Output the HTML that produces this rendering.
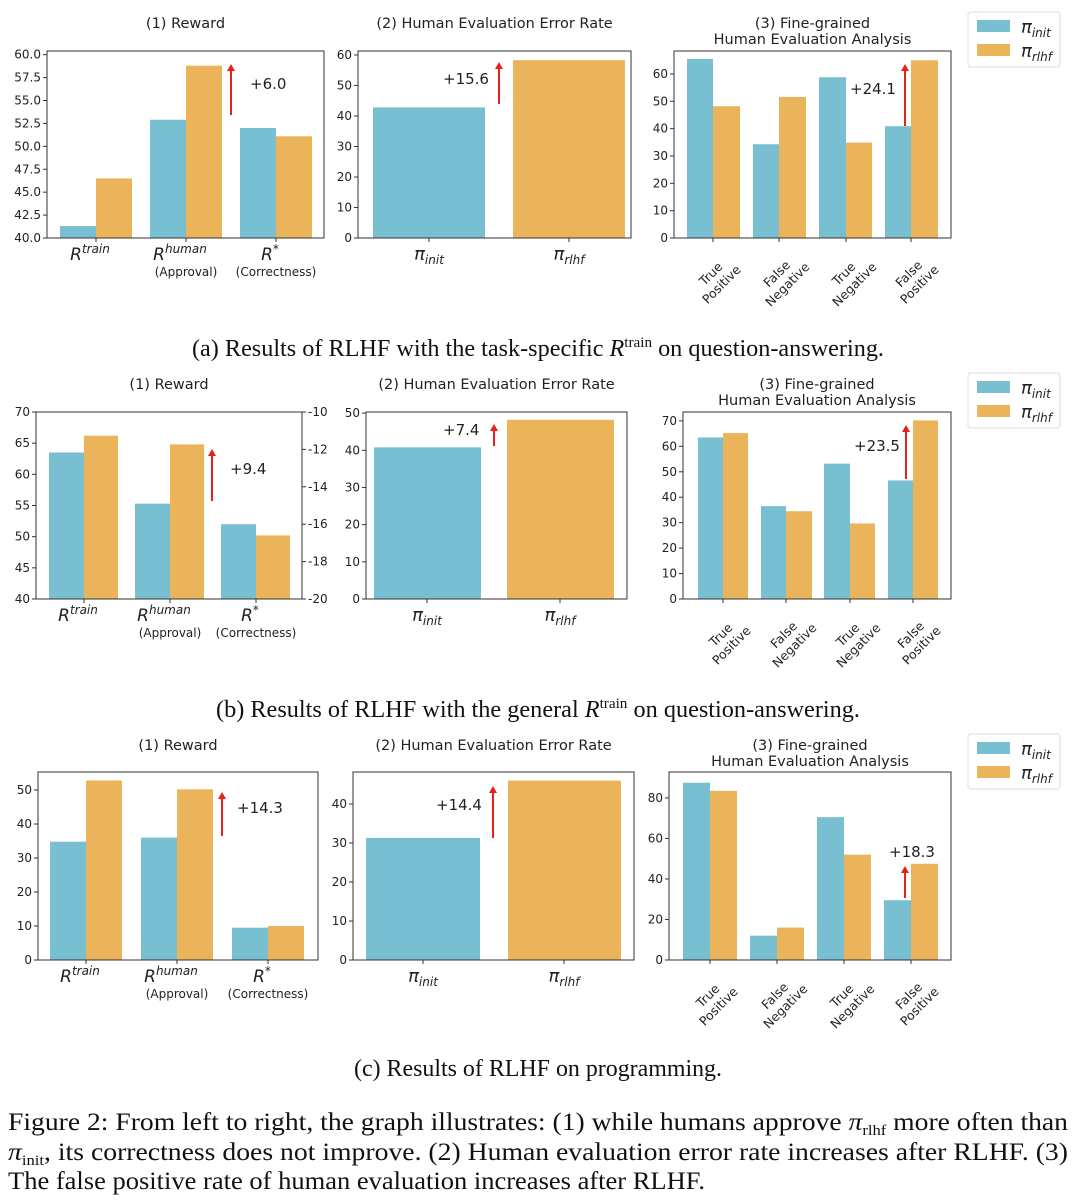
<!DOCTYPE html>
<html><head><meta charset="utf-8"><style>
body{margin:0;background:#fff;width:1080px;height:1200px;overflow:hidden}
svg{display:block}
.t{font-family:"DejaVu Sans",sans-serif;fill:#222}
.s{font-family:"Liberation Serif",serif;fill:#111}
</style></head><body>
<svg id="g" width="1080" height="1200" xmlns="http://www.w3.org/2000/svg"></svg>
<script>
const B='#78bfd2',O='#ebb35a';
const g=document.getElementById('g');let h='';
function txt(x,y,s,o={}){h+=`<text x="${x}" y="${y}" class="${o.c||'t'}" font-size="${o.fs||12}" text-anchor="${o.a||'middle'}" ${o.f?`fill="${o.f}"`:''} ${o.tr?`transform="${o.tr}"`:''} ${o.tl?`textLength="${o.tl}" lengthAdjust="spacingAndGlyphs"`:''}>${s}</text>`}
function panel(p){
 const {x0,x1,y0,y1,ymin,ymax}=p;const sy=v=>y1-(v-ymin)/(ymax-ymin)*(y1-y0);
 p.bars.forEach(b=>{h+=`<rect x="${b[0]}" y="${sy(b[2])}" width="${b[1]-b[0]}" height="${y1-sy(b[2])}" fill="${b[3]}"/>`});
 h+=`<rect x="${x0}" y="${y0}" width="${x1-x0}" height="${y1-y0}" fill="none" stroke="#333" stroke-width="1"/>`;
 p.ticks.forEach(t=>{const y=sy(t);h+=`<line x1="${x0-4}" x2="${x0}" y1="${y}" y2="${y}" stroke="#333"/>`;txt(x0-6,y+4,p.fmt?p.fmt(t):t,{a:'end'})});
 if(p.rt)p.rt.forEach((t,i)=>{const y=y1-i*(y1-y0)/(p.rt.length-1);h+=`<line x1="${x1}" x2="${x1+4}" y1="${y}" y2="${y}" stroke="#333"/>`;txt(x1+6,y+4,t,{a:'start'})});
 txt((x0+x1)/2,p.ty,p.title,{fs:14.5});
 if(p.ty2)txt((x0+x1)/2,p.ty2,p.title2,{fs:14.5});
 const a=p.arrow;h+=`<line x1="${a[0]}" x2="${a[0]}" y1="${a[1]}" y2="${a[2]+6}" stroke="#e8201a" stroke-width="2"/><polygon points="${a[0]-4},${a[2]+7} ${a[0]+4},${a[2]+7} ${a[0]},${a[2]}" fill="#e8201a"/>`;
 txt(a[3],a[4],a[5],{fs:15,f:'#e8201a',a:'start'});
 p.xl.forEach(l=>{h+=`<line x1="${l[0]}" x2="${l[0]}" y1="${y1}" y2="${y1+4}" stroke="#333"/>`;l[1](l[0],y1)});
}
const R=(sup,sub)=>(x,y)=>{txt(x-6,y+22,'<tspan font-style="italic" font-size="17">R</tspan><tspan font-style="italic" font-size="12" dy="-7">'+sup+'</tspan>',{});if(sub)txt(x,y+38,sub,{})};
const P=(s)=>(x,y)=>txt(x,y+22,'<tspan font-style="italic" font-size="18">π</tspan><tspan font-style="italic" font-size="12" dy="4">'+s+'</tspan>',{});
const Rot=(a,b)=>(x,y)=>{const cx=x+3,cy=y+41;h+=`<g transform="translate(${cx} ${cy}) rotate(-45)">`;txt(0,-3,a,{fs:12.5});txt(0,12,b,{fs:12.5});h+='</g>'};
function legend(y){h+=`<rect x="968" y="${y}" width="92" height="55" rx="3" fill="#fff" stroke="#ddd"/>
<rect x="977" y="${y+8}" width="33" height="12" fill="${B}"/><rect x="977" y="${y+32}" width="33" height="12" fill="${O}"/>`;
txt(1021,y+21,'<tspan font-style="italic" font-size="18">π</tspan><tspan font-style="italic" font-size="12" dy="4">init</tspan>',{a:'start'});
txt(1021,y+45,'<tspan font-style="italic" font-size="18">π</tspan><tspan font-style="italic" font-size="12" dy="4">rlhf</tspan>',{a:'start'});}
const labs1=(c)=>[[c[0],R('train')],[c[1],R('human','(Approval)')],[c[2],R('*','(Correctness)')]];
const labs3=(c)=>[[c[0],Rot('True','Positive')],[c[1],Rot('False','Negative')],[c[2],Rot('True','Negative')],[c[3],Rot('False','Positive')]];
function bars2(xs,vals){const r=[];xs.forEach((x,i)=>{r.push([x[0],x[1],vals[i][0],B]);r.push([x[1],x[2],vals[i][1],O])});return r}
// Row a
panel({x0:47,x1:324,y0:51,y1:238,ymin:40,ymax:60.4,ticks:[40,42.5,45,47.5,50,52.5,55,57.5,60],fmt:t=>t.toFixed(1),title:'(1) Reward',ty:28,
 bars:bars2([[60,96,132],[150,186,222],[240,276,312]],[[41.3,46.5],[52.9,58.8],[52.0,51.1]]),arrow:[231,115,64,250,89,'+6.0'],xl:labs1([96,186,276])});
panel({x0:358,x1:631,y0:51,y1:238,ymin:0,ymax:61.3,ticks:[0,10,20,30,40,50,60],title:'(2) Human Evaluation Error Rate',ty:28,
 bars:[[373,485,42.8,B],[513,625,58.3,O]],arrow:[499,104,62,443,84,'+15.6'],xl:[[429,P('init')],[569,P('rlhf')]]});
panel({x0:674,x1:951,y0:51,y1:238,ymin:0,ymax:68.4,ticks:[0,10,20,30,40,50,60],title:'(3) Fine-grained',ty:28,title2:'Human Evaluation Analysis',ty2:44,
 bars:bars2([[687,713,740],[753,779,806],[819,846,872],[885,911,938]],[[65.5,48.2],[34.3,51.6],[58.8,34.9],[40.9,65]]),arrow:[905,126,64,850,94,'+24.1'],xl:labs3([713,779,846,911])});
legend(12);
txt(538,356,'(a) Results of RLHF with the task-specific <tspan font-style="italic">R</tspan><tspan font-size="15" dy="-9">train</tspan><tspan dy="9"> on question-answering.</tspan>',{c:'s',fs:24,tl:692});
// Row b
panel({x0:36,x1:302,y0:412,y1:599,ymin:40,ymax:70,ticks:[40,45,50,55,60,65,70],rt:['-20','-18','-16','-14','-12','-10'],title:'(1) Reward',ty:389,
 bars:bars2([[49,84,118],[135,170,204],[221,256,290]],[[63.5,66.2],[55.3,64.8],[52,50.2]]),arrow:[212,501,449,230,474,'+9.4'],xl:labs1([84,170,256])});
panel({x0:366,x1:627,y0:412,y1:599,ymin:0,ymax:50.3,ticks:[0,10,20,30,40,50],title:'(2) Human Evaluation Error Rate',ty:389,
 bars:[[374,481,40.8,B],[507,614,48.2,O]],arrow:[494,446,424,443,435,'+7.4'],xl:[[427,P('init')],[560,P('rlhf')]]});
panel({x0:683,x1:951,y0:412,y1:599,ymin:0,ymax:73.5,ticks:[0,10,20,30,40,50,60,70],title:'(3) Fine-grained',ty:389,title2:'Human Evaluation Analysis',ty2:405,
 bars:bars2([[698,723,748],[761,786,812],[824,850,875],[888,913,938]],[[63.5,65.2],[36.5,34.5],[53.2,29.7],[46.6,70.2]]),arrow:[906,479,425,854,451,'+23.5'],xl:labs3([723,786,850,913])});
legend(373);
txt(538,717,'(b) Results of RLHF with the general <tspan font-style="italic">R</tspan><tspan font-size="15" dy="-9">train</tspan><tspan dy="9"> on question-answering.</tspan>',{c:'s',fs:24,tl:644});
// Row c
panel({x0:38,x1:318,y0:772,y1:960,ymin:0,ymax:55.3,ticks:[0,10,20,30,40,50],title:'(1) Reward',ty:750,
 bars:bars2([[50,86,122],[141,177,213],[232,268,304]],[[34.8,52.8],[36,50.2],[9.5,10]]),arrow:[222,836,792,237,813,'+14.3'],xl:labs1([86,177,268])});
panel({x0:353,x1:634,y0:772,y1:960,ymin:0,ymax:48.2,ticks:[0,10,20,30,40],title:'(2) Human Evaluation Error Rate',ty:750,
 bars:[[366,480,31.3,B],[508,621,46,O]],arrow:[493,838,786,436,810,'+14.4'],xl:[[423,P('init')],[564,P('rlhf')]]});
panel({x0:669,x1:951,y0:772,y1:960,ymin:0,ymax:92.8,ticks:[0,20,40,60,80],title:'(3) Fine-grained',ty:750,title2:'Human Evaluation Analysis',ty2:766,
 bars:bars2([[683,710,737],[750,777,804],[817,844,871],[884,911,938]],[[87.5,83.5],[12,16],[70.5,52],[29.5,47.5]]),arrow:[905,898,866,889,857,'+18.3'],xl:labs3([710,777,844,911])});
legend(734);
txt(538,1076,'(c) Results of RLHF on programming.',{c:'s',fs:24,tl:368});
// Caption
txt(8,1130,'Figure 2: From left to right, the graph illustrates: (1) while humans approve <tspan font-style="italic">π</tspan><tspan font-size="15" dy="5">rlhf</tspan><tspan dy="-5"> more often than</tspan>',{c:'s',fs:25,a:'start',tl:1060});
txt(8,1160,'<tspan font-style="italic">π</tspan><tspan font-size="15" dy="5">init</tspan><tspan dy="-5">, its correctness does not improve.  (2) Human evaluation error rate increases after RLHF. (3)</tspan>',{c:'s',fs:25,a:'start',tl:1060});
txt(8,1189,'The false positive rate of human evaluation increases after RLHF.',{c:'s',fs:25,a:'start',tl:697});
g.innerHTML=h;
</script>
</body></html>
